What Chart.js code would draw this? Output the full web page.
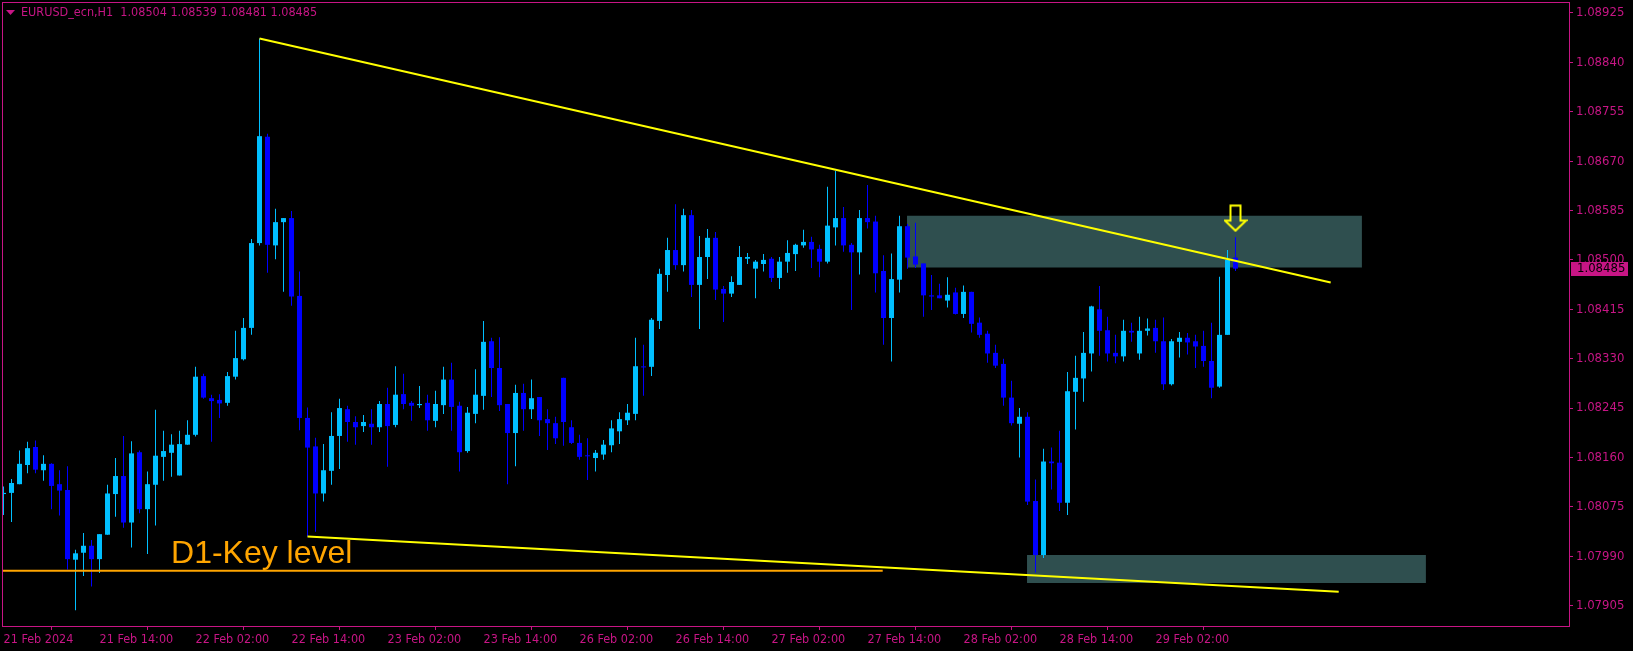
<!DOCTYPE html>
<html>
<head>
<meta charset="utf-8">
<script src="https://cdn.jsdelivr.net/npm/chart.js@4.4.1/dist/chart.umd.min.js"></script>
<style>
html,body{margin:0;padding:0;background:#000;overflow:hidden}
#c{display:block}
</style>
</head>
<body>
<canvas id="c" width="1633" height="651"></canvas>
<script>
// ---------------- DATA ----------------
const symbol = 'EURUSD_ecn,H1';
const timeLabels = ['21 Feb 2024','21 Feb 14:00','22 Feb 02:00','22 Feb 14:00','23 Feb 02:00','23 Feb 14:00',
  '26 Feb 02:00','26 Feb 14:00','27 Feb 02:00','27 Feb 14:00','28 Feb 02:00','28 Feb 14:00','29 Feb 02:00'];
const barsPerLabel = 12;
const priceTicks = [1.07905,1.07990,1.08075,1.08160,1.08245,1.08330,1.08415,1.08500,1.08585,1.08670,1.08755,1.08840,1.08925];

const opens = [
1.08097,1.08099,1.08114,1.08147,1.08178,1.08138,1.08149,1.08114,1.08104,1.07984,
1.07996,1.08008,1.07985,1.08027,1.08097,1.08128,1.08048,1.08169,1.08071,1.08113,
1.08161,1.08168,1.08129,1.08182,1.08199,1.08300,1.08262,1.08259,1.08254,1.08299,
1.08329,1.08383,1.08529,1.08712,1.08525,1.08565,1.08572,1.08438,1.08228,1.08179,
1.08098,1.08137,1.08197,1.08243,1.08221,1.08214,1.08218,1.08212,1.08252,1.08216,
1.08269,1.08254,1.08250,1.08254,1.08223,1.08250,1.08294,1.08249,1.08171,1.08235,
1.08266,1.08360,1.08314,1.08252,1.08202,1.08271,1.08243,1.08264,1.08226,1.08219,
1.08297,1.08212,1.08185,1.08163,1.08159,1.08165,1.08181,1.08205,1.08224,1.08235,
1.08316,1.08316,1.08395,1.08474,1.08517,1.08491,1.08577,1.08457,1.08505,1.08538,
1.08450,1.08442,1.08457,1.08502,1.08485,1.08493,1.08502,1.08469,1.08497,1.08510,
1.08525,1.08531,1.08519,1.08497,1.08556,1.08572,1.08526,1.08513,1.08572,1.08566,
1.08481,1.08400,1.08466,1.08558,1.08506,1.08494,1.08439,1.08439,1.08430,1.08444,
1.08407,1.08445,1.08392,1.08373,1.08340,1.08321,1.08263,1.08218,1.08230,1.08085,
1.07992,1.08153,1.08151,1.08082,1.08273,1.08296,1.08339,1.08415,1.08379,1.08340,
1.08334,1.08378,1.08339,1.08378,1.08383,1.08360,1.08286,1.08359,1.08366,1.08360,
1.08352,1.08326,1.08282,1.08371,1.08504];
const highs = [
1.08110,1.08123,1.08172,1.08187,1.08189,1.08164,1.08150,1.08138,1.08145,1.08001,
1.08030,1.08018,1.08028,1.08113,1.08159,1.08197,1.08188,1.08172,1.08136,1.08242,
1.08206,1.08200,1.08206,1.08224,1.08316,1.08304,1.08268,1.08269,1.08307,1.08378,
1.08400,1.08536,1.08881,1.08717,1.08588,1.08572,1.08584,1.08480,1.08246,1.08194,
1.08183,1.08238,1.08261,1.08249,1.08231,1.08233,1.08243,1.08257,1.08280,1.08317,
1.08304,1.08257,1.08283,1.08268,1.08275,1.08316,1.08323,1.08256,1.08247,1.08312,
1.08395,1.08366,1.08367,1.08252,1.08285,1.08287,1.08294,1.08264,1.08243,1.08230,
1.08297,1.08224,1.08199,1.08193,1.08173,1.08190,1.08224,1.08238,1.08252,1.08366,
1.08354,1.08400,1.08485,1.08538,1.08596,1.08588,1.08586,1.08541,1.08553,1.08548,
1.08455,1.08472,1.08524,1.08512,1.08500,1.08510,1.08505,1.08505,1.08534,1.08528,
1.08552,1.08540,1.08526,1.08626,1.08653,1.08591,1.08529,1.08586,1.08629,1.08576,
1.08508,1.08511,1.08576,1.08562,1.08564,1.08494,1.08474,1.08459,1.08470,1.08452,
1.08456,1.08445,1.08401,1.08378,1.08354,1.08330,1.08292,1.08245,1.08238,1.08122,
1.08175,1.08177,1.08206,1.08307,1.08335,1.08376,1.08421,1.08455,1.08402,1.08371,
1.08397,1.08392,1.08402,1.08399,1.08397,1.08401,1.08364,1.08376,1.08374,1.08371,
1.08378,1.08392,1.08471,1.08517,1.08539];
const lows = [
1.08061,1.08049,1.08114,1.08133,1.08133,1.08120,1.08071,1.08060,1.07967,1.07897,
1.07956,1.07938,1.07961,1.08027,1.08058,1.08039,1.08005,1.08064,1.07994,1.08043,
1.08120,1.08127,1.08129,1.08182,1.08196,1.08261,1.08187,1.08228,1.08249,1.08294,
1.08327,1.08371,1.08525,1.08478,1.08501,1.08445,1.08421,1.08207,1.08024,1.08032,
1.08084,1.08113,1.08140,1.08187,1.08182,1.08204,1.08182,1.08204,1.08144,1.08212,
1.08243,1.08223,1.08245,1.08206,1.08212,1.08235,1.08206,1.08136,1.08168,1.08219,
1.08242,1.08264,1.08240,1.08114,1.08145,1.08206,1.08226,1.08197,1.08173,1.08183,
1.08180,1.08183,1.08156,1.08121,1.08136,1.08156,1.08169,1.08183,1.08216,1.08224,
1.08266,1.08300,1.08381,1.08445,1.08483,1.08480,1.08436,1.08381,1.08467,1.08431,
1.08393,1.08436,1.08457,1.08493,1.08434,1.08480,1.08462,1.08450,1.08478,1.08481,
1.08521,1.08486,1.08470,1.08494,1.08525,1.08514,1.08414,1.08475,1.08554,1.08444,
1.08354,1.08325,1.08444,1.08485,1.08486,1.08402,1.08414,1.08434,1.08418,1.08406,
1.08400,1.08375,1.08366,1.08323,1.08314,1.08249,1.08215,1.08160,1.08078,1.07962,
1.07987,1.08105,1.08068,1.08061,1.08208,1.08256,1.08308,1.08335,1.08325,1.08322,
1.08325,1.08359,1.08328,1.08370,1.08340,1.08276,1.08284,1.08332,1.08337,1.08314,
1.08316,1.08262,1.08280,1.08371,1.08481];
const closes = [
1.08099,1.08116,1.08149,1.08176,1.08139,1.08149,1.08111,1.08103,1.07985,1.07995,
1.08008,1.07985,1.08028,1.08098,1.08128,1.08048,1.08167,1.08071,1.08114,1.08163,
1.08171,1.08182,1.08183,1.08199,1.08299,1.08263,1.08257,1.08253,1.08300,1.08331,
1.08383,1.08529,1.08713,1.08526,1.08565,1.08572,1.08437,1.08228,1.08177,1.08098,
1.08138,1.08197,1.08245,1.08221,1.08212,1.08221,1.08212,1.08252,1.08214,1.08268,
1.08252,1.08249,1.08252,1.08224,1.08252,1.08294,1.08247,1.08169,1.08237,1.08268,
1.08359,1.08314,1.08250,1.08202,1.08271,1.08243,1.08262,1.08224,1.08219,1.08193,
1.08221,1.08185,1.08161,1.08162,1.08168,1.08182,1.08210,1.08226,1.08237,1.08317,
1.08315,1.08397,1.08476,1.08517,1.08491,1.08577,1.08457,1.08505,1.08538,1.08449,
1.08442,1.08462,1.08505,1.08505,1.08497,1.08500,1.08469,1.08497,1.08512,1.08526,
1.08531,1.08518,1.08497,1.08559,1.08572,1.08525,1.08513,1.08572,1.08565,1.08477,
1.08400,1.08467,1.08558,1.08504,1.08492,1.08439,1.08437,1.08434,1.08440,1.08407,
1.08445,1.08390,1.08371,1.08339,1.08318,1.08263,1.08219,1.08230,1.08084,1.07992,
1.08153,1.08150,1.08082,1.08274,1.08297,1.08340,1.08420,1.08378,1.08339,1.08334,
1.08378,1.08375,1.08378,1.08382,1.08360,1.08286,1.08360,1.08366,1.08358,1.08351,
1.08326,1.08280,1.08371,1.08500,1.08485];

// drawn objects (time index, price)
const upperTrend = [{x: 32, y: 1.08881}, {x: 165.9, y: 1.08461}];
const lowerTrend = [{x: 38, y: 1.08024}, {x: 166.9, y: 1.07929}];
const keyLevelPrice = 1.07965;
const keyLevelEndBar = 109.9;
const keyLevelText = 'D1-Key level';
const keyLevelTextAt = {x: 20.94, y: 1.079784};
const upperZone = {from: 112.94, to: 169.8, top: 1.08576, bottom: 1.08487};
const lowerZone = {from: 127.94, to: 177.8, top: 1.07992, bottom: 1.07944};
const signalArrow = {x: 154, y: 1.08572};

// ---------------- STYLE ----------------
const MAG = '#C71585';
const BULL = '#00BFFF';
const BEAR = '#0000FF';
const ZONE = '#2F4F4F';
const YEL = '#FFFF00';
const ORANGE = '#FFA500';
const UIFONT = "'DejaVu Sans Condensed', 'DejaVu Sans', sans-serif";

const N = opens.length;
const xMin = -0.0625, xMax = 195.6875;
const yMin = 1.078699, yMax = 1.089422;

const idx = opens.map((_, i) => i);
const isBull = idx.map(i => closes[i] >= opens[i]);
const candleColors = idx.map(i => isBull[i] ? BULL : BEAR);
const wickData = idx.map(i => ({x: i, y: [lows[i], highs[i]]}));
const bodyData = idx.map(i => ({x: i, y: [Math.min(opens[i], closes[i]), Math.max(opens[i], closes[i])]}));

// arrow point image
function makeArrow() {
  const c = document.createElement('canvas');
  c.width = 24; c.height = 28;
  const g = c.getContext('2d');
  g.strokeStyle = YEL; g.lineWidth = 2; g.lineJoin = 'miter';
  g.beginPath();
  g.moveTo(7, 1.5); g.lineTo(17, 1.5); g.lineTo(17, 16.5); g.lineTo(22.5, 16.5);
  g.lineTo(12, 26.5); g.lineTo(1.5, 16.5); g.lineTo(7, 16.5); g.closePath();
  g.stroke();
  return c;
}

const zoneDataset = (z) => ({
  type: 'line',
  data: [{x: z.from, y: z.top}, {x: z.to, y: z.top}],
  borderWidth: 0, borderColor: 'rgba(0,0,0,0)', pointRadius: 0,
  backgroundColor: ZONE, fill: {value: z.bottom}, order: 20
});
const lineDataset = (pts, color) => ({
  type: 'line', data: pts, borderColor: color, borderWidth: 2,
  pointRadius: 0, fill: false, tension: 0, order: 2
});

const chromePlugin = {
  id: 'chrome',
  afterDatasetsDraw(chart) {
    const {ctx, scales: {x, y}} = chart;
    ctx.save();
    ctx.font = "32px 'Liberation Sans', Arial, sans-serif";
    ctx.fillStyle = ORANGE;
    ctx.textBaseline = 'alphabetic';
    ctx.textAlign = 'left';
    ctx.fillText(keyLevelText, x.getPixelForValue(keyLevelTextAt.x), y.getPixelForValue(keyLevelTextAt.y));
    ctx.restore();
  },
  afterDraw(chart) {
    const {ctx, chartArea: a, scales: {y}} = chart;
    ctx.save();
    // frame
    ctx.strokeStyle = MAG; ctx.lineWidth = 1;
    ctx.strokeRect(a.left - 0.5, a.top - 0.5, a.right - a.left + 1, a.bottom - a.top + 1);
    // header
    ctx.fillStyle = MAG;
    ctx.beginPath(); ctx.moveTo(6, 10); ctx.lineTo(15, 10); ctx.lineTo(10.5, 15); ctx.closePath(); ctx.fill();
    ctx.font = '12.5px ' + UIFONT;
    ctx.textBaseline = 'middle'; ctx.textAlign = 'left';
    const L = N - 1;
    const hdr = symbol + '  ' + [opens[L], highs[L], lows[L], closes[L]].map(v => v.toFixed(5)).join(' ');
    ctx.fillText(hdr, 21, 13);
    // current price label
    const py = y.getPixelForValue(closes[L]);
    ctx.fillStyle = MAG;
    ctx.fillRect(a.right + 2, Math.round(py) - 7, 57, 14);
    ctx.fillStyle = '#000';
    ctx.font = '13px ' + UIFONT;
    ctx.fillText(closes[L].toFixed(5), a.right + 8, Math.round(py));
    ctx.restore();
  }
};

new Chart(document.getElementById('c'), {
  type: 'bar',
  data: {
    datasets: [
      zoneDataset(upperZone),
      zoneDataset(lowerZone),
      {type: 'bar', data: wickData, backgroundColor: candleColors, borderWidth: 0,
       grouped: false, maxBarThickness: 1, inflateAmount: 0, order: 10},
      {type: 'bar', data: bodyData, backgroundColor: candleColors, borderWidth: 0,
       grouped: false, maxBarThickness: 5, minBarLength: 1, inflateAmount: 0, order: 9},
      lineDataset([{x: xMin, y: keyLevelPrice}, {x: keyLevelEndBar, y: keyLevelPrice}], ORANGE),
      lineDataset(upperTrend, YEL),
      lineDataset(lowerTrend, YEL),
      {type: 'line', data: [signalArrow], showLine: false, pointStyle: makeArrow(),
       pointRadius: 12, order: 1}
    ]
  },
  options: {
    responsive: false,
    devicePixelRatio: 1,
    animation: false,
    events: [],
    layout: {autoPadding: false, padding: {left: 3, top: 3, right: 0, bottom: 0}},
    plugins: {legend: {display: false}, tooltip: {enabled: false}},
    scales: {
      x: {
        type: 'linear', position: 'bottom', min: xMin, max: xMax, offset: false,
        afterBuildTicks: s => { s.ticks = timeLabels.map((_, j) => ({value: j * barsPerLabel})); },
        afterFit: s => { s.height = 25; s.paddingLeft = 0; s.paddingRight = 0; },
        grid: {drawOnChartArea: false, drawTicks: true, tickLength: 4, color: MAG},
        border: {display: false},
        ticks: {
          autoSkip: false, maxRotation: 0, minRotation: 0, align: 'start', padding: 2,
          color: MAG, font: {family: UIFONT, size: 12.5},
          callback: (v) => timeLabels[Math.round(v / barsPerLabel)]
        }
      },
      y: {
        type: 'linear', position: 'right', min: yMin, max: yMax,
        afterBuildTicks: s => { s.ticks = priceTicks.map(v => ({value: v})); },
        afterFit: s => { s.width = 64; s.paddingTop = 0; s.paddingBottom = 0; },
        grid: {drawOnChartArea: false, drawTicks: true, tickLength: 4, color: MAG},
        border: {display: false},
        ticks: {
          padding: 3, color: MAG, font: {family: UIFONT, size: 13},
          callback: v => Number(v).toFixed(5)
        }
      }
    }
  },
  plugins: [chromePlugin]
});
</script>
</body>
</html>
